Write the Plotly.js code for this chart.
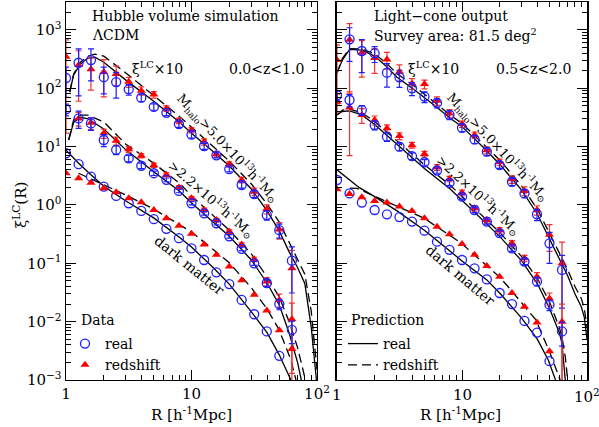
<!DOCTYPE html>
<html>
<head>
<meta charset="utf-8">
<script src="https://cdn.plot.ly/plotly-3.0.1.min.js"></script>
<style>body{margin:0;background:#fff}#myDiv{width:599px;height:427px}</style>
</head>
<body>
<div id="myDiv"></div>
<script>
// bin centres (h^-1 Mpc)
var R = [1.0, 1.26, 1.58, 2.0, 2.51, 3.16, 3.98, 5.01, 6.31, 7.94, 10.0, 12.6, 15.8, 20.0, 25.1, 31.6, 39.8, 50.1, 63.1];
var xTickVals = [1, 10, 100];
var xTickText = ['1', '10', '10<sup>2</sup>'];

// left panel: Hubble volume, 0<z<1
var L_top_real = [150, 274, 304, 155, 128, 96, 69, 48, 38, 24.4, 16, 10.2, 7.1, 4.1, 2.2, 1.54, 0.67, 0.37, 0.111];
var L_top_real_err = [80, 200, 170, 75, 60, 20, 10, 6, 4, 3, 2, 1.2, 0.7, 0.4, 0.25, 0.2, 0.12, 0.1, 0.08];
var L_top_z = [347, 250, 213, 191, 175, 129, 91, 78, 45, 27.8, 19.2, 12.1, 7.4, 5.0, 2.68, 1.69, 0.85, 0.38, 0.082];
var L_top_z_err = [330, 190, 120, 120, 65, 25, 15, 10, 5, 3, 2, 1.5, 0.8, 0.5, 0.3, 0.25, 0.15, 0.12, 0.085];
var L_mid_real = [43.6, 30.5, 25, 13, 8.8, 6.3, 4.7, 3.5, 2.7, 1.74, 1.07, 0.72, 0.486, 0.29, 0.177, 0.10, 0.046, 0.020, 0.0072];
var L_mid_real_err = [10, 10, 6, 3, 1.5, 0.8, 0.5, 0.3, 0.2, 0.12, 0.07, 0.05, 0.03, 0.02, 0.012, 0.008, 0.006, 0.004, 0.003];
var L_mid_z = [null, 30.5, 25.6, 16.9, 12.6, 9.0, 7.0, 4.8, 3.3, 2.0, 1.30, 0.82, 0.55, 0.35, 0.21, 0.117, 0.049, 0.0236, 0.011];
var L_mid_z_err = [null, 8, 6, 3, 2, 1, 0.6, 0.4, 0.25, 0.15, 0.09, 0.06, 0.04, 0.025, 0.015, 0.01, 0.008, 0.006, 0.0097];
var L_dm_real = [7.7, 5.0, 3.05, 2.06, 1.43, 1.07, 0.79, 0.57, 0.39, 0.27, 0.18, 0.114, 0.070, 0.044, 0.0236, 0.0134, 0.0068, 0.0026, null];
var L_dm_z = [3.5, 2.87, 2.41, 1.93, 1.65, 1.30, 1.11, 0.82, 0.59, 0.44, 0.32, 0.21, 0.14, 0.088, 0.051, 0.0288, 0.0155, 0.0071, 0.0034];

// right panel: light-cone, 0.5<z<2
var R_top_real = [null, 690, 436, 397, 185, 154, 100, 72, 56, 35, 21, 13.3, 8.2, 4.84, 2.5, 1.58, 0.69, 0.22, 0.077];
var R_top_real_err = [null, 400, 250, 120, 80, 50, 25, 15, 10, 6, 3, 2, 1.2, 0.6, 0.35, 0.25, 0.15, 0.12, 0.06];
var R_top_z = [304, 680, 405, 330, 312, 192, 121, 118, 61, 37, 24.4, 15.8, 8.7, 5.4, 2.75, 1.74, 0.82, 0.31, 0.1];
var R_top_z_err = [250, 600, 250, 150, 100, 60, 25, 20, 10, 6, 3, 2, 1.2, 0.7, 0.4, 0.3, 0.15, 0.15, 0.13];
var R_mid_real = [76, 63, 42.3, 23.4, 14.8, 10, 6.9, 5.4, 3.9, 2.4, 1.39, 0.82, 0.52, 0.33, 0.18, 0.107, 0.049, 0.0195, 0.0068];
var R_mid_real_err = [15, 15, 8, 4, 2.5, 1.5, 0.9, 0.6, 0.4, 0.25, 0.15, 0.08, 0.05, 0.03, 0.02, 0.012, 0.008, 0.004, 0.003];
var R_mid_z = [59, 47, 35, 28.5, 20.6, 15.2, 10.6, 7.5, 4.4, 2.8, 1.62, 0.88, 0.55, 0.37, 0.22, 0.122, 0.059, 0.025, 0.01];
var R_mid_z_err = [20, 40, 10, 5, 3, 2, 1.2, 0.8, 0.5, 0.3, 0.18, 0.1, 0.06, 0.04, 0.025, 0.015, 0.01, 0.006, 0.0099];
var R_dm_real = [2.68, 1.58, 1.1, 0.82, 0.69, 0.62, 0.52, 0.363, 0.235, 0.17, 0.114, 0.082, 0.053, 0.031, 0.02, 0.0103, 0.0065, 0.0021, null];
var R_dm_z = [1.86, 1.54, 1.36, 1.17, 1.1, 0.94, 0.79, 0.59, 0.425, 0.315, 0.215, 0.14, 0.09, 0.059, 0.031, 0.018, 0.0097, 0.0031, null];

// predictions, left panel
var Lp_top_x = [1.07, 1.15, 1.3, 1.5, 1.7, 2, 3, 5, 8, 10, 15, 20, 30, 40, 50, 60, 70, 80, 90, 95, 100];
var Lp_top_real = [86, 170, 260, 330, 340, 280, 138, 60, 26.5, 17, 8.1, 4.66, 1.88, 0.79, 0.36, 0.157, 0.085, 0.045, 0.008, 0.0025, 0.0008];
var Lp_top_z = [86, 175, 280, 355, 385, 355, 183, 76, 33, 21.6, 9.8, 5.66, 2.29, 1.04, 0.51, 0.23, 0.12, 0.065, 0.015, 0.005, 0.0015];
var Lp_mid_x = [1.05, 1.15, 1.3, 1.5, 2, 3, 5, 8, 10, 15, 20, 30, 40, 50, 60, 70, 75, 80];
var Lp_mid_real = [13, 26, 32, 30, 20, 8.8, 3.7, 1.74, 1.08, 0.51, 0.29, 0.114, 0.046, 0.0194, 0.0064, 0.002, 0.001, null];
var Lp_mid_z = [13, 28.6, 34.6, 34.6, 26.5, 11, 5.2, 2.38, 1.43, 0.65, 0.37, 0.145, 0.058, 0.0266, 0.01, 0.0036, 0.002, 0.0011];
var Lp_dm_x = [1.0, 1.26, 1.58, 2, 3, 5, 8, 10, 15, 20, 30, 40, 50, 60, 62, 68];
var Lp_dm_real = [8.7, 5.2, 3.3, 2.1, 1.17, 0.6, 0.28, 0.19, 0.083, 0.044, 0.0147, 0.0065, 0.0027, 0.0012, 0.001, null];
var Lp_dm_z = [null, 3.5, 2.78, 2.2, 1.48, 0.85, 0.47, 0.345, 0.17, 0.102, 0.038, 0.0165, 0.0072, 0.0027, 0.0022, 0.001];

// predictions, right panel
var Rp_top_x = [1.0, 1.1, 1.26, 1.58, 2, 2.5, 3, 4, 6, 8, 10, 15, 20, 25, 30, 40, 50, 60, 70, 80, 90, 95, 100];
var Rp_top_real = [182, 300, 464, 450, 356, 235, 156, 100, 51, 31, 22, 9.5, 5.0, 2.9, 1.8, 0.7, 0.27, 0.123, 0.061, 0.03, 0.018, 0.012, 0.005];
var Rp_top_z = [182, 320, 480, 470, 390, 265, 180, 116, 58, 35, 25, 11, 5.9, 3.4, 2.1, 0.85, 0.33, 0.155, 0.078, 0.04, 0.025, 0.017, 0.008];
var Rp_mid_x = [1.0, 1.1, 1.26, 1.58, 2, 3, 5, 8, 10, 15, 20, 30, 40, 50, 60, 63, 67, 70];
var Rp_mid_real = [35, 40, 41, 35, 24, 11, 4.2, 1.9, 1.2, 0.52, 0.29, 0.11, 0.045, 0.017, 0.0065, 0.0043, 0.001, null];
var Rp_mid_z = [35, 42, 44, 38, 27, 12.5, 4.9, 2.2, 1.4, 0.6, 0.34, 0.13, 0.055, 0.022, 0.008, 0.0055, 0.0025, 0.001];
var Rp_dm_x = [1.0, 1.5, 2, 3, 5, 10, 15.8, 20, 30, 40, 49, 56];
var Rp_dm_real = [4.0, 2.0, 1.39, 0.8, 0.37, 0.11, 0.052, 0.031, 0.0115, 0.005, 0.0022, 0.001];
var Rp_dmz_x = [1.27, 1.44, 2.5, 5, 9.9, 15, 20, 24.6, 39, 50.6, 61];
var Rp_dm_z = [1.95, 1.93, 1.14, 0.59, 0.22, 0.1, 0.058, 0.035, 0.0107, 0.0029, 0.001];

var FONT = 'DejaVu Serif';
var BLUE = 'rgb(30,30,255)';
var RED = 'rgb(255,0,0)';

var data = [];

function realPts(xa, ya, y, err, show) {
  var t = {
    type: 'scatter', mode: 'markers', x: R, y: y, xaxis: xa, yaxis: ya,
    name: 'real', showlegend: !!show, legend: 'legend',
    marker: {symbol: 'circle-open', size: 9, color: BLUE, line: {width: 1.3, color: BLUE}}
  };
  if (err) t.error_y = {type: 'data', array: err, color: BLUE, thickness: 1.2, width: 3};
  data.push(t);
}
function zPts(xa, ya, y, err, show) {
  var t = {
    type: 'scatter', mode: 'markers', x: R, y: y, xaxis: xa, yaxis: ya,
    name: 'redshift', showlegend: !!show, legend: 'legend',
    marker: {symbol: 'triangle-up', size: 8, color: RED}
  };
  if (err) t.error_y = {type: 'data', array: err, color: 'rgb(240,50,50)', thickness: 1.2, width: 3};
  data.push(t);
}
function curve(xa, ya, x, y, dashed, show) {
  data.push({
    type: 'scatter', mode: 'lines', x: x, y: y, xaxis: xa, yaxis: ya,
    name: dashed ? 'redshift' : 'real', showlegend: !!show, legend: 'legend2',
    line: {color: 'black', width: 1.3, dash: dashed ? '9px,5px' : 'solid'}
  });
}

// left panel
curve('x', 'y', Lp_top_x, Lp_top_real, false);
curve('x', 'y', Lp_top_x, Lp_top_z, true);
curve('x', 'y', Lp_mid_x, Lp_mid_real, false);
curve('x', 'y', Lp_mid_x, Lp_mid_z, true);
curve('x', 'y', Lp_dm_x, Lp_dm_real, false);
curve('x', 'y', Lp_dm_x, Lp_dm_z, true);
zPts('x', 'y', L_top_z, L_top_z_err);
realPts('x', 'y', L_top_real, L_top_real_err);
zPts('x', 'y', L_mid_z, L_mid_z_err);
realPts('x', 'y', L_mid_real, L_mid_real_err);
realPts('x', 'y', L_dm_real, null, true);
zPts('x', 'y', L_dm_z, null, true);

// right panel
curve('x2', 'y2', Rp_top_x, Rp_top_real, false, true);
curve('x2', 'y2', Rp_top_x, Rp_top_z, true, true);
curve('x2', 'y2', Rp_mid_x, Rp_mid_real, false);
curve('x2', 'y2', Rp_mid_x, Rp_mid_z, true);
curve('x2', 'y2', Rp_dm_x, Rp_dm_real, false);
curve('x2', 'y2', Rp_dmz_x, Rp_dm_z, true);
zPts('x2', 'y2', R_top_z, R_top_z_err);
realPts('x2', 'y2', R_top_real, R_top_real_err);
zPts('x2', 'y2', R_mid_z, R_mid_z_err);
realPts('x2', 'y2', R_mid_real, R_mid_real_err);
realPts('x2', 'y2', R_dm_real, null);
zPts('x2', 'y2', R_dm_z, null);

// tick positions
var minorVals = [];
for (var d = -3; d <= 3; d++) {
  for (var k = 2; k <= 9; k++) minorVals.push(k * Math.pow(10, d));
}
var yTicks = [1e-3, 1e-2, 1e-1, 1, 10, 100, 1000];
var yText = ['10<sup>\u22123</sup>', '10<sup>\u22122</sup>', '10<sup>\u22121</sup>', '10<sup>0</sup>', '10<sup>1</sup>', '10<sup>2</sup>', '10<sup>3</sup>'];

var X1_DOM = [0.1102, 0.5292];
var X2_DOM = [0.5626, 0.98];

function xAxis(domain, anchor, labels) {
  return {
    type: 'log', range: [0, 2], domain: domain, anchor: anchor,
    showgrid: false, zeroline: false, showline: true, linecolor: 'black', linewidth: 1.5,
    mirror: 'allticks', ticks: 'inside', ticklen: 10, tickwidth: 1, tickcolor: 'black',
    tickmode: 'array', tickvals: xTickVals, ticktext: xTickText, showticklabels: labels,
    tickfont: {family: FONT, size: 15, color: 'black'},
    minor: {tickmode: 'array', tickvals: minorVals, ticks: 'inside', ticklen: 5, tickcolor: 'black', showgrid: false}
  };
}
function yAxis(anchor, labels) {
  return {
    type: 'log', range: [-3, 3.479], domain: [0.1101, 0.9953], anchor: anchor,
    showgrid: false, zeroline: false, showline: true, linecolor: 'black', linewidth: 1.5,
    mirror: 'allticks', ticks: 'inside', ticklen: 10, tickwidth: 1, tickcolor: 'black',
    tickmode: 'array', tickvals: yTicks, ticktext: yText, showticklabels: labels,
    tickfont: {family: FONT, size: 15, color: 'black'},
    minor: {tickmode: 'array', tickvals: minorVals, ticks: 'inside', ticklen: 5, tickcolor: 'black', showgrid: false}
  };
}

function ann(px, py, text, o) {
  o = o || {};
  return {
    xref: 'paper', yref: 'paper', x: px / 599, y: 1 - py / 427, text: text, showarrow: false,
    xanchor: o.xa || 'left', yanchor: 'middle', textangle: o.angle || 0,
    font: {family: FONT, size: o.size || 14, color: 'black'}
  };
}

var annotations = [
  ann(90, 16, 'Hubble volume simulation'),
  ann(90, 35, '\u039BCDM'),
  ann(306, 69, '0.0&lt;z&lt;1.0', {xa: 'right'}),
  ann(157, 68, '\u03BE<sup>LC</sup>\u00D710', {xa: 'center'}),
  ann(228, 148, 'M<sub>halo</sub>&gt;5.0\u00D710<sup>13</sup>h<sup>-1</sup>M<sub>\u2299</sub>', {xa: 'center', angle: 47, size: 13}),
  ann(211, 199, '&gt;2.2\u00D710<sup>13</sup>h<sup>-1</sup>M<sub>\u2299</sub>', {xa: 'center', angle: 41, size: 13}),
  ann(189, 265, 'dark matter', {xa: 'center', angle: 39}),
  ann(79, 320, 'Data'),
  ann(372, 16, 'Light\u2212cone output'),
  ann(372, 35, 'Survey area: 81.5 deg<sup>2</sup>'),
  ann(573, 69, '0.5&lt;z&lt;2.0', {xa: 'right'}),
  ann(433, 68, '\u03BE<sup>LC</sup>\u00D710', {xa: 'center'}),
  ann(498, 147, 'M<sub>halo</sub>&gt;5.0\u00D710<sup>13</sup>h<sup>-1</sup>M<sub>\u2299</sub>', {xa: 'center', angle: 47, size: 13}),
  ann(478, 195, '&gt;2.2\u00D710<sup>13</sup>h<sup>-1</sup>M<sub>\u2299</sub>', {xa: 'center', angle: 43, size: 13}),
  ann(460, 275, 'dark matter', {xa: 'center', angle: 40}),
  ann(349, 320, 'Prediction'),
  ann(191, 414, 'R [h<sup>-1</sup>Mpc]', {xa: 'center', size: 15}),
  ann(460, 414, 'R [h<sup>-1</sup>Mpc]', {xa: 'center', size: 15}),
  ann(20, 205, '\u03BE<sup>LC</sup>(R)', {xa: 'center', angle: -90, size: 15})
];

// tick labels of the right-hand x axis (range 0..2 in log units across its domain)
xTickVals.forEach(function (v, i) {
  var f = Math.log10(v) / 2;
  annotations.push({
    xref: 'paper', yref: 'paper', x: X2_DOM[0] + f * (X2_DOM[1] - X2_DOM[0]), y: 1 - 384 / 427,
    yanchor: 'top', xanchor: 'center', text: xTickText[i], showarrow: false,
    font: {family: FONT, size: 15, color: 'black'}
  });
});

var layout = {
  width: 599, height: 427,
  margin: {l: 0, r: 0, t: 0, b: 0},
  xaxis: xAxis(X1_DOM, 'y', true),
  yaxis: yAxis('x', true),
  xaxis2: xAxis(X2_DOM, 'y2', false),
  yaxis2: yAxis('x2', false),
  legend: {x: 65 / 599, y: 1 - 328 / 427, xanchor: 'left', yanchor: 'top', bgcolor: 'rgba(0,0,0,0)',
    font: {family: FONT, size: 14, color: 'black'}, itemwidth: 30, tracegroupgap: 0},
  legend2: {x: 343 / 599, y: 1 - 328 / 427, xanchor: 'left', yanchor: 'top', bgcolor: 'rgba(0,0,0,0)',
    font: {family: FONT, size: 14, color: 'black'}, itemwidth: 30, tracegroupgap: 0},
  annotations: annotations
};

Plotly.newPlot('myDiv', data, layout, {displayModeBar: false, staticPlot: true});
</script>
</body>
</html>
